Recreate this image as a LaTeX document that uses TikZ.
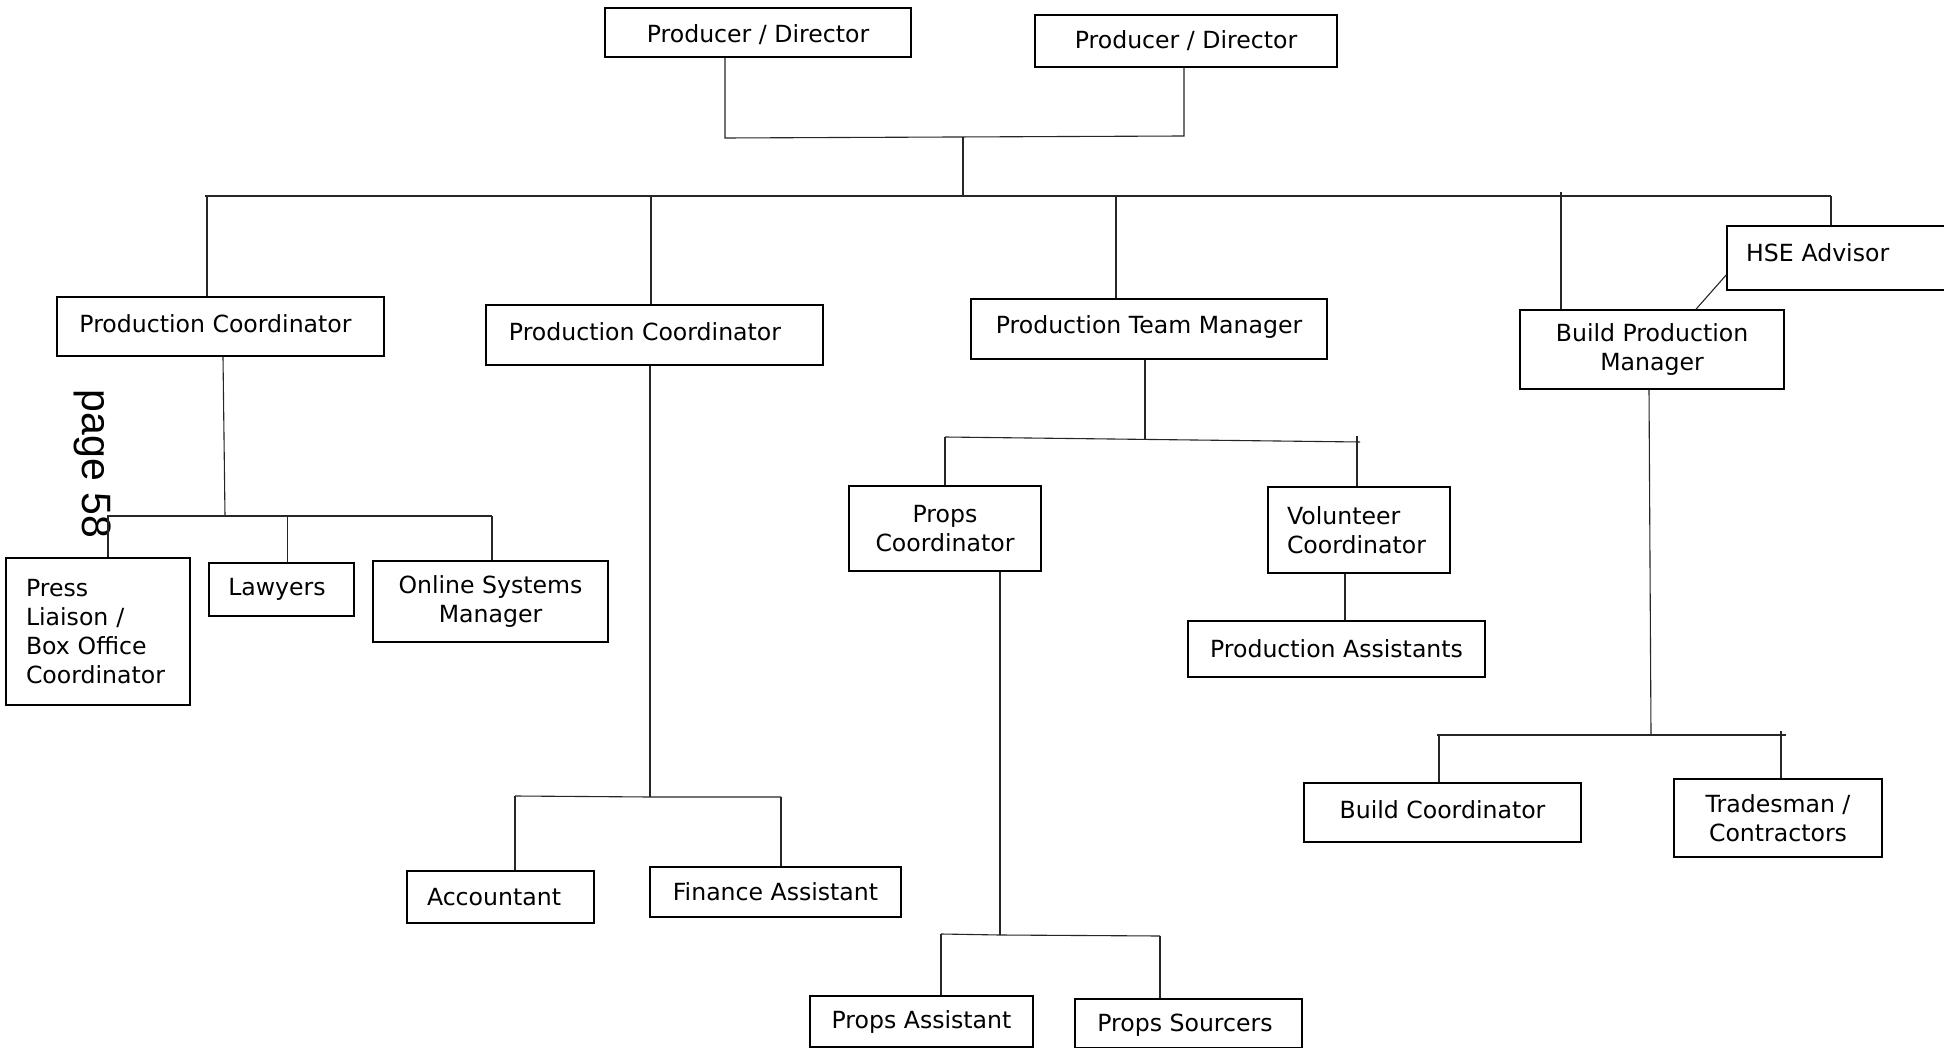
\documentclass[tikz,border=0pt]{standalone}
\usepackage{fontspec}
\setmainfont{DejaVu Sans}
\newfontfamily\pagefont{Liberation Sans}
\begin{document}
\begin{tikzpicture}[x=0.5pt,y=-0.5pt,
  box/.style={draw=black, line width=0.8pt, rectangle, inner sep=0pt,
    font=\fontsize{11.8}{14.5}\selectfont, align=center},
  conn/.style={draw=black!85, line width=0.55pt}]
\clip (0,0) rectangle (1944,1048);
\fill[white] (0,0) rectangle (1944,1048);

% boxes
\node[box, minimum width=153pt, minimum height=24.5pt] (pd1) at (758,32.5) {\raisebox{-1pt}[\height][\depth]{Producer / Director}};
\node[box, minimum width=151pt, minimum height=26pt] (pd2) at (1186,41) {Producer / Director};
\node[box, minimum width=163.5pt, minimum height=29.5pt] (pc1) at (220.5,326.5) {\raisebox{1.5pt}[\height][\depth]{Production Coordinator}\hspace{5pt}};
\node[box, minimum width=168.5pt, minimum height=30pt] (pc2) at (654.5,335) {\raisebox{1.5pt}[\height][\depth]{Production Coordinator}\hspace{9.5pt}};
\node[box, minimum width=178pt, minimum height=30pt] (ptm) at (1149,329) {\raisebox{1pt}[\height][\depth]{Production Team Manager}};
\node[box, minimum width=116.5pt, minimum height=32pt, text width=97.5pt, inner xsep=9.5pt, align=left] (hse) at (1843.5,258) {\raisebox{2.5pt}[\height][\depth]{HSE Advisor}};
\node[box, minimum width=132pt, minimum height=39.5pt] (bpm) at (1652,349.5) {Build Production\\Manager};
\node[box, minimum width=92pt, minimum height=73.5pt, text width=72pt, inner xsep=10pt, align=left] (press) at (98,631.5) {Press\\Liaison /\\Box Office\\Coordinator};
\node[box, minimum width=72.5pt, minimum height=26.5pt] (law) at (281.5,589.5) {Lawyers\hspace{4.5pt}};
\node[box, minimum width=117.5pt, minimum height=40.5pt] (osm) at (490.5,601.5) {Online Systems\\Manager};
\node[box, minimum width=96pt, minimum height=42.5pt] (propc) at (945,528.5) {Props\\Coordinator};
\node[box, minimum width=91pt, minimum height=43pt, text width=72pt, inner xsep=9.5pt, align=left] (vol) at (1359,530) {Volunteer\\Coordinator};
\node[box, minimum width=148.5pt, minimum height=28pt] (pa) at (1336.5,649) {Production Assistants};
\node[box, minimum width=93.5pt, minimum height=26pt] (acc) at (500.5,897) {Accountant\hspace{6.5pt}};
\node[box, minimum width=125.5pt, minimum height=25pt] (fin) at (775.5,892) {Finance Assistant};
\node[box, minimum width=111.5pt, minimum height=25.5pt] (passt) at (921.5,1021.5) {Props Assistant};
\node[box, minimum width=113.5pt, minimum height=24.5pt] (psrc) at (1188.5,1023.5) {\raisebox{-1pt}[\height][\depth]{Props Sourcers}\hspace{3.5pt}};
\node[box, minimum width=138.5pt, minimum height=29.5pt] (bc) at (1442.5,812.5) {\raisebox{1.5pt}[\height][\depth]{Build Coordinator}};
\node[box, minimum width=104pt, minimum height=39pt] (trade) at (1778,818) {Tradesman /\\Contractors};

\node[rotate=-90, inner sep=0pt, font=\pagefont\fontsize{20.5}{24}\selectfont] (pg) at (93,464) {page 58};

% top connectors
\coordinate (t1) at (725,138);
\coordinate (t2) at (1184,136);
\coordinate (t0) at (963,137);
\coordinate (m0) at (963,196);
\draw[conn] (pd1.south -| t1) -- (t1) -- (t2) -- (pd2.south -| t2);
\draw[conn] (t0) -- (m0);
\coordinate (bl) at (205,196);
\coordinate (br) at (1831,196);
\draw[conn] (bl) -- (br);
\coordinate (d1) at (207,196);
\coordinate (d2) at (651,196);
\coordinate (d3) at (1116,196);
\coordinate (d4) at (1561,192);
\coordinate (d5) at (1831,196);
\draw[conn] (d1) -- (d1 |- pc1.north);
\draw[conn] (d2) -- (d2 |- pc2.north);
\draw[conn] (d3) -- (d3 |- ptm.north);
\draw[conn] (d4) -- (d4 |- bpm.north);
\draw[conn] (d5) -- (d5 |- hse.north);
\coordinate (h1) at (0,275);
\coordinate (h2) at (1696,0);
\draw[conn] (hse.west |- h1) -- (bpm.north -| h2);

% PC1 subtree
\coordinate (s1) at (225,516);
\coordinate (s1t) at (223,0);
\draw[conn] (pc1.south -| s1t) -- (s1);
\coordinate (a1) at (108,516);
\coordinate (a2) at (287.5,516);
\coordinate (a3) at (492,516);
\draw[conn] (107,516) -- (a3);
\draw[conn] (a1) -- (a1 |- press.north);
\draw[conn] (a2) -- (a2 |- law.north);
\draw[conn] (a3) -- (a3 |- osm.north);

% PC2 subtree
\coordinate (s2) at (650,797);
\draw[conn] (pc2.south -| s2) -- (s2);
\coordinate (b1) at (515,796);
\coordinate (b2) at (781,797);
\draw[conn] (b1) -- (s2) -- (b2);
\draw[conn] (b1) -- (b1 |- acc.north);
\draw[conn] (b2) -- (b2 |- fin.north);

% PTM subtree
\coordinate (s3) at (1145,439.5);
\draw[conn] (ptm.south -| s3) -- (s3);
\coordinate (c1) at (945,437);
\coordinate (c2) at (1357,436);
\draw[conn] (c1) -- (1360,442);
\draw[conn] (c1) -- (c1 |- propc.north);
\draw[conn] (c2) -- (c2 |- vol.north);
\coordinate (v1) at (1345,0);
\draw[conn] (vol.south -| v1) -- (pa.north -| v1);

% Props subtree
\coordinate (s4) at (1000,935);
\draw[conn] (propc.south -| s4) -- (s4);
\coordinate (e1) at (941,934);
\coordinate (e2) at (1160,936);
\draw[conn] (e1) -- (s4) -- (e2);
\draw[conn] (e1) -- (e1 |- passt.north);
\draw[conn] (e2) -- (e2 |- psrc.north);

% BPM subtree
\coordinate (s5) at (1651,735);
\coordinate (s5t) at (1649,0);
\draw[conn] (bpm.south -| s5t) -- (s5);
\coordinate (f1) at (1439,735);
\coordinate (f2) at (1781,731);
\draw[conn] (1437,735) -- (1786,735);
\draw[conn] (f1) -- (f1 |- bc.north);
\draw[conn] (f2) -- (f2 |- trade.north);
\end{tikzpicture}
\end{document}
